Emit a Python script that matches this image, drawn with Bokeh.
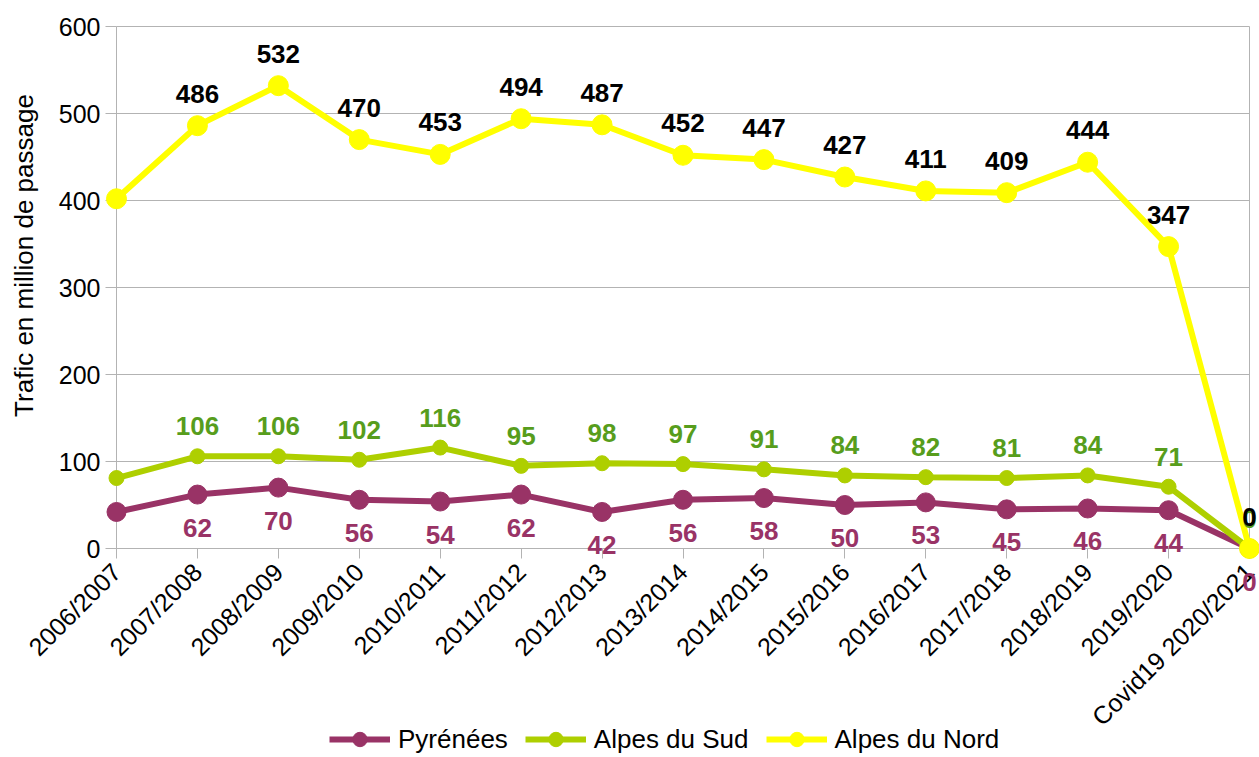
import math
from bokeh.plotting import figure
from bokeh.models import (Range1d, FixedTicker, LabelSet, Label, Legend, LegendItem,
                          ColumnDataSource)
from bokeh.core.properties import value
from bokeh.embed import file_html
from bokeh.resources import INLINE

seasons = ["2006/2007", "2007/2008", "2008/2009", "2009/2010", "2010/2011",
           "2011/2012", "2012/2013", "2013/2014", "2014/2015", "2015/2016",
           "2016/2017", "2017/2018", "2018/2019", "2019/2020", "Covid19 2020/2021"]
pyrenees = [42, 62, 70, 56, 54, 62, 42, 56, 58, 50, 53, 45, 46, 44, 0]
alpes_sud = [81, 106, 106, 102, 116, 95, 98, 97, 91, 84, 82, 81, 84, 71, 0]
alpes_nord = [402, 486, 532, 470, 453, 494, 487, 452, 447, 427, 411, 409, 444, 347, 0]
y_ticks = [0, 100, 200, 300, 400, 500, 600]

FONT = "Liberation Sans"
GRID = "#b3b3b3"
C_PYR = "#993366"
C_SUD = "#aecf00"
C_NORD = "#ffff00"
C_SUD_LBL = "#579d1c"

W, H = 1259, 757
# frame placement (pixels inside the canvas) of the data area
FL, FR, FT, FB = 116, 1249, 26, 548
n = len(seasons)
xs = list(range(n))
ymin, ymax = y_ticks[0], y_ticks[-1]
px_x = (FR - FL) / (n - 1)
px_y = (FB - FT) / (ymax - ymin)

p = figure(width=W, height=H, output_backend="svg", toolbar_location=None,
           x_range=Range1d(-FL / px_x, (n - 1) + (W - FR) / px_x),
           y_range=Range1d(ymin - (H - FB) / px_y, ymax + FT / px_y),
           min_border=0)
p.background_fill_color = "white"
p.border_fill_color = "white"
p.outline_line_color = None
p.grid.visible = False

# gridlines and right border of the plot area
p.segment(x0=[xs[0]] * len(y_ticks), x1=[xs[-1]] * len(y_ticks), y0=y_ticks, y1=y_ticks,
          line_color=GRID, line_width=1)
p.segment(x0=[xs[-1]], x1=[xs[-1]], y0=[ymin], y1=[ymax], line_color=GRID, line_width=1)

yax = p.yaxis[0]
yax.fixed_location = xs[0]
yax.bounds = (ymin, ymax)
yax.level = "underlay"
yax.ticker = FixedTicker(ticks=y_ticks)
yax.axis_line_color = GRID
yax.major_tick_line_color = GRID
yax.major_tick_out = 11
yax.major_tick_in = 0
yax.minor_tick_line_color = None
yax.major_label_text_font = FONT
yax.major_label_text_font_size = "25px"
yax.major_label_text_color = "black"
yax.major_label_standoff = 5

xax = p.xaxis[0]
xax.fixed_location = ymin
xax.bounds = (xs[0], xs[-1])
xax.level = "underlay"
xax.ticker = FixedTicker(ticks=xs)
xax.major_label_overrides = {i: s for i, s in enumerate(seasons)}
xax.axis_line_color = GRID
xax.major_tick_line_color = GRID
xax.major_tick_out = 10
xax.major_tick_in = 0
xax.minor_tick_line_color = None
xax.major_label_orientation = math.pi / 4
xax.major_label_text_font = FONT
xax.major_label_text_font_size = "25px"
xax.major_label_text_color = "black"
xax.major_label_standoff = 9

series = [
    ("Pyrénées", pyrenees, C_PYR, 19, C_PYR, -42),
    ("Alpes du Sud", alpes_sud, C_SUD, 15, C_SUD_LBL, 21),
    ("Alpes du Nord", alpes_nord, C_NORD, 20, "black", 23),
]

items = []
label_sets = []
for name, vals, col, msize, lcol, yoff in series:
    src = ColumnDataSource(dict(x=xs, y=vals))
    ln = p.line("x", "y", source=src, line_color=col, line_width=6)
    sc = p.scatter("x", "y", source=src, size=msize, fill_color=col, line_color=col)
    items.append(LegendItem(label=name, renderers=[ln, sc]))
    lsrc = ColumnDataSource(dict(x=xs[1:], y=vals[1:], t=[str(v) for v in vals[1:]]))
    label_sets.append(LabelSet(x="x", y="y", text="t", source=lsrc, y_offset=yoff,
                               text_align="center", text_baseline="alphabetic",
                               text_font=value(FONT), text_font_size="26px",
                               text_font_style="bold", text_color=lcol))
for ls in label_sets:
    p.add_layout(ls)

legend = Legend(items=items, orientation="horizontal", location=(329, 0),
                glyph_width=61, glyph_height=36, label_standoff=8, spacing=17,
                padding=0, margin=0, border_line_color=None, background_fill_alpha=0,
                label_text_font=FONT, label_text_font_size="26px",
                label_text_color="black")
p.add_layout(legend, "center")

title = Label(x=23, y=H - 255, x_units="screen", y_units="screen",
              text="Trafic en million de passage", angle=math.pi / 2,
              text_align="center", text_baseline="middle",
              text_font=FONT, text_font_size="26px", text_color="black")
p.add_layout(title)

open("out.html", "w").write(file_html(p, INLINE))
